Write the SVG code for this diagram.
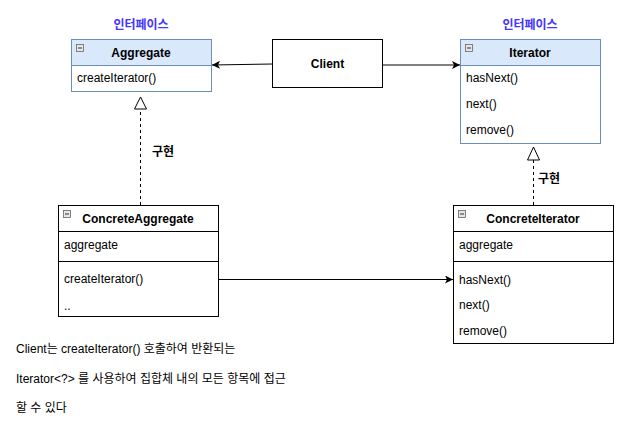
<svg xmlns="http://www.w3.org/2000/svg" width="622" height="422" viewBox="0 0 622 422">
<style>
text{font-family:"Liberation Sans","Noto Sans CJK KR",sans-serif;font-size:12px;fill:#000}
.b{font-weight:bold}
.lbl{font-weight:bold;fill:#4433ff}
.hdr{fill:#dae8fc;stroke:#6c8ebf;stroke-width:1}
.body{fill:#fff;stroke:#6c8ebf;stroke-width:1}
.box{fill:#fff;stroke:#000;stroke-width:1}
.ln{stroke:#000;stroke-width:1;fill:none}
.icon{fill:#e6e6e6;stroke:#666;stroke-width:0.8}
.edge{stroke:#000;stroke-width:1;fill:none}
.dash{stroke:#000;stroke-width:1;fill:none;stroke-dasharray:3 3}
</style>
<defs>
<marker id="arr" markerWidth="10" markerHeight="10" refX="8" refY="4" orient="auto" markerUnits="userSpaceOnUse">
<path d="M0,0 L8,4 L0,8 L2,4 Z" fill="#000"/>
</marker>
</defs>
<g id="label-agg"><text class="lbl" x="141" y="29" text-anchor="middle">인터페이스</text></g>
<g id="label-it"><text class="lbl" x="530" y="29" text-anchor="middle">인터페이스</text></g>
<g id="Aggregate">
<rect class="body" x="71.5" y="39.5" width="140" height="52"/>
<rect class="hdr" x="71.5" y="39.5" width="140" height="26"/>
<rect class="icon" x="76.5" y="44.5" width="7" height="7"/><line x1="78" y1="48" x2="82" y2="48" stroke="#333"/>
<text class="b" x="141" y="57" text-anchor="middle">Aggregate</text>
<text x="77" y="82">createIterator()</text>
</g>
<g id="Client">
<rect class="box" x="272.5" y="39.5" width="110" height="48"/>
<text class="b" x="327.5" y="68" text-anchor="middle">Client</text>
</g>
<g id="Iterator">
<rect class="body" x="460.5" y="39.5" width="140" height="104"/>
<rect class="hdr" x="460.5" y="39.5" width="140" height="26"/>
<rect class="icon" x="465.5" y="44.5" width="7" height="7"/><line x1="467" y1="48" x2="471" y2="48" stroke="#333"/>
<text class="b" x="530" y="57" text-anchor="middle">Iterator</text>
<text x="466" y="82">hasNext()</text>
<text x="466" y="108">next()</text>
<text x="466" y="134">remove()</text>
</g>
<g id="ConcreteAggregate">
<rect class="box" x="58.5" y="205.5" width="160" height="111"/>
<line class="ln" x1="58.5" y1="231.5" x2="218.5" y2="231.5"/>
<line class="ln" x1="58.5" y1="261.5" x2="218.5" y2="261.5"/>
<rect class="icon" x="63.5" y="210.5" width="7" height="7"/><line x1="65" y1="214" x2="69" y2="214" stroke="#333"/>
<text class="b" x="138" y="223" text-anchor="middle">ConcreteAggregate</text>
<text x="64" y="249">aggregate</text>
<text x="64" y="283">createIterator()</text>
<text x="64" y="310">..</text>
</g>
<g id="ConcreteIterator">
<rect class="box" x="453.5" y="205.5" width="160" height="138"/>
<line class="ln" x1="453.5" y1="231.5" x2="613.5" y2="231.5"/>
<line class="ln" x1="453.5" y1="261.5" x2="613.5" y2="261.5"/>
<rect class="icon" x="458.5" y="210.5" width="7" height="7"/><line x1="460" y1="214" x2="464" y2="214" stroke="#333"/>
<text class="b" x="533" y="223" text-anchor="middle">ConcreteIterator</text>
<text x="459" y="249">aggregate</text>
<text x="459" y="284">hasNext()</text>
<text x="459" y="309">next()</text>
<text x="459" y="335">remove()</text>
</g>
<g id="connectors">
<line class="edge" x1="272.5" y1="64" x2="212" y2="65" marker-end="url(#arr)"/>
<line class="edge" x1="382.5" y1="65" x2="460" y2="65" marker-end="url(#arr)"/>
<line class="edge" x1="218.5" y1="279.5" x2="453" y2="279.5" marker-end="url(#arr)"/>
<line class="dash" x1="140.5" y1="205" x2="140.5" y2="109"/>
<path d="M140.5,97 L134.5,109 L146.5,109 Z" fill="#fff" stroke="#000"/>
<line class="dash" x1="533.5" y1="205" x2="533.5" y2="160"/>
<path d="M533.5,147 L527.5,160 L539.5,160 Z" fill="#fff" stroke="#000"/>
<text class="b" x="152" y="156">구현</text>
<text class="b" x="538" y="183">구현</text>
</g>
<g id="note">
<text x="16" y="353">Client는 createIterator() 호출하여 반환되는</text>
<text x="16" y="383">Iterator&lt;?&gt; 를 사용하여 집합체 내의 모든 항목에 접근</text>
<text x="16" y="412">할 수 있다</text>
</g>
</svg>
